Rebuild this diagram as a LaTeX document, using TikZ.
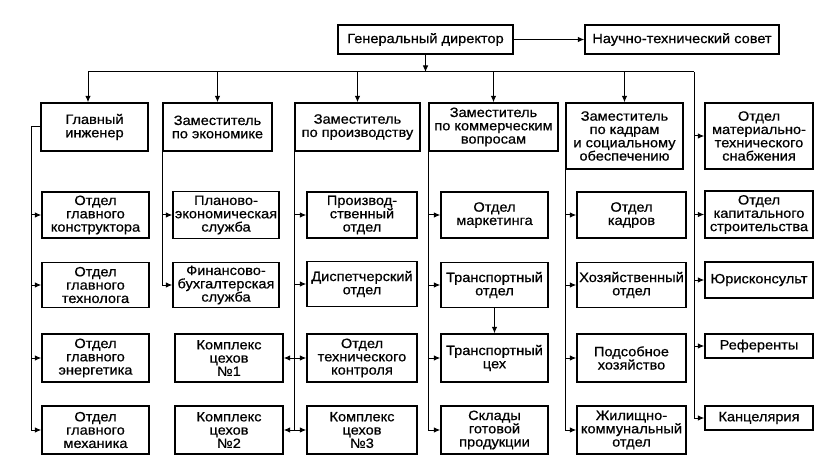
\documentclass[tikz,border=0pt]{standalone}
\usepackage{fontspec}
\setmainfont{Liberation Sans}[FakeStretch=1.08,FakeBold=0.6]
\usetikzlibrary{arrows.meta,positioning}

\begin{document}
\begin{tikzpicture}[x=1pt,y=-1pt,
    box/.style={draw, line width=1.4pt, inner sep=0pt, align=center,
      font=\fontsize{13.5}{13.3}\selectfont},
    con/.style={line width=1pt},
    arr/.style={con, -{Latex[length=6.5pt,width=5.5pt]}},
    dbl/.style={con, {Latex[length=6.5pt,width=5.5pt]}-{Latex[length=6.5pt,width=5.5pt]}}]
\useasboundingbox (0,0) rectangle (837,470);
% top
\node[box, minimum width=175pt, minimum height=29pt] (gendir) at (425.5,39.5) {Генеральный директор};
\node[box, minimum width=194pt, minimum height=29pt] (nts) at (682,39.5) {Научно-технический совет};
% deputies
\node[box, minimum width=107pt, minimum height=48pt] (glinzh) at (94.5,127) {Главный\\инженер};
\node[box, minimum width=109pt, minimum height=48pt] (zamek) at (217.5,127) {Заместитель\\по экономике};
\node[box, minimum width=125pt, minimum height=48pt] (zampr) at (357.5,127) {Заместитель\\по производству};
\node[box, minimum width=129pt, minimum height=48pt] (zamkom) at (493.5,127) {Заместитель\\по коммерческим\\вопросам};
\node[box, minimum width=117pt, minimum height=66pt] (zamkad) at (624.5,136) {Заместитель\\по кадрам\\и социальному\\обеспечению};
\node[box, minimum width=108pt, minimum height=66pt] (omts) at (759,136) {Отдел\\материально-\\технического\\снабжения};
% column 1
\node[box, minimum width=107pt, minimum height=46pt] (okonstr) at (95.5,215) {Отдел\\главного\\конструктора};
\node[box, minimum width=107pt, minimum height=45pt] (otehn) at (95.5,285) {Отдел\\главного\\технолога};
\node[box, minimum width=107pt, minimum height=48pt] (oenerg) at (95.5,358) {Отдел\\главного\\энергетика};
\node[box, minimum width=107pt, minimum height=48pt] (omeh) at (95.5,430) {Отдел\\главного\\механика};
% column 2
\node[box, minimum width=106pt, minimum height=47pt] (pes) at (226,215) {Планово-\\экономическая\\служба};
\node[box, minimum width=106pt, minimum height=45pt] (fbs) at (226,285) {Финансово-\\бухгалтерская\\служба};
\node[box, minimum width=108pt, minimum height=48pt] (kc1) at (229,358) {Комплекс\\цехов\\№1};
\node[box, minimum width=108pt, minimum height=48pt] (kc2) at (229,430) {Комплекс\\цехов\\№2};
% column 3
\node[box, minimum width=110pt, minimum height=46pt] (proizv) at (362,215) {Производ-\\ственный\\отдел};
\node[box, minimum width=110pt, minimum height=45pt] (disp) at (362,284) {Диспетчерский\\отдел};
\node[box, minimum width=110pt, minimum height=48pt] (otk) at (362,358) {Отдел\\технического\\контроля};
\node[box, minimum width=110pt, minimum height=48pt] (kc3) at (362,430) {Комплекс\\цехов\\№3};
% column 4
\node[box, minimum width=107pt, minimum height=46pt] (market) at (494.5,215) {Отдел\\маркетинга};
\node[box, minimum width=107pt, minimum height=45pt] (trotd) at (494.5,285) {Транспортный\\отдел};
\node[box, minimum width=107pt, minimum height=48pt] (trceh) at (494.5,358) {Транспортный\\цех};
\node[box, minimum width=107pt, minimum height=48pt] (sklad) at (494.5,430) {Склады\\готовой\\продукции};
% column 5
\node[box, minimum width=109pt, minimum height=46pt] (okadr) at (631.5,215) {Отдел\\кадров};
\node[box, minimum width=109pt, minimum height=45pt] (hozotd) at (631.5,285) {Хозяйственный\\отдел};
\node[box, minimum width=109pt, minimum height=48pt] (podsob) at (631.5,358) {Подсобное\\хозяйство};
\node[box, minimum width=109pt, minimum height=48pt] (zhkh) at (631.5,430) {Жилищно-\\коммунальный\\отдел};
% column 6
\node[box, minimum width=108pt, minimum height=47pt] (okap) at (759,214.5) {Отдел\\капитального\\строительства};
\node[box, minimum width=108pt, minimum height=36pt] (jur) at (759,280) {Юрисконсульт};
\node[box, minimum width=108pt, minimum height=24pt] (ref) at (759,346) {Референты};
\node[box, minimum width=108pt, minimum height=24pt] (kanc) at (759,418) {Канцелярия};
% bus
\coordinate (bl) at (88,72);
\coordinate (br) at (694,72);
\coordinate (t1) at (31,0);
\draw[arr] (gendir) -- (nts);
\draw[arr] (gendir.south) -- (gendir.south |- bl);
\draw[con] (bl) -- (br);
\draw[arr] (bl) -- (bl |- glinzh.north);
\foreach \n in {zamek,zampr,zamkom,zamkad}
  \draw[arr] (\n.north |- bl) -- (\n.north);
% trunks
\draw[arr] (glinzh.west) -- (glinzh.west -| t1) |- (omeh.west);
\foreach \n in {okonstr,otehn,oenerg}
  \draw[arr] (\n.west -| t1) -- (\n.west);
\draw[arr] (zamek.south west) |- (fbs.west);
\draw[arr] (pes.west -| zamek.south west) -- (pes.west);
\draw[con] (zampr.south west) -- (zampr.south west |- kc3.west);
\foreach \n in {proizv,disp}
  \draw[arr] (\n.west -| zampr.south west) -- (\n.west);
\draw[dbl] (kc1) -- (otk);
\draw[dbl] (kc2) -- (kc3);
\draw[arr] (zamkom.south west) |- (sklad.west);
\foreach \n in {market,trotd,trceh}
  \draw[arr] (\n.west -| zamkom.south west) -- (\n.west);
\draw[arr] (trotd) -- (trceh);
\draw[arr] (zamkad.south west) |- (zhkh.west);
\foreach \n in {okadr,hozotd,podsob}
  \draw[arr] (\n.west -| zamkad.south west) -- (\n.west);
\draw[arr] (br) |- (kanc.west);
\foreach \n in {omts,okap,jur,ref}
  \draw[arr] (\n.west -| br) -- (\n.west);
\end{tikzpicture}
\end{document}
